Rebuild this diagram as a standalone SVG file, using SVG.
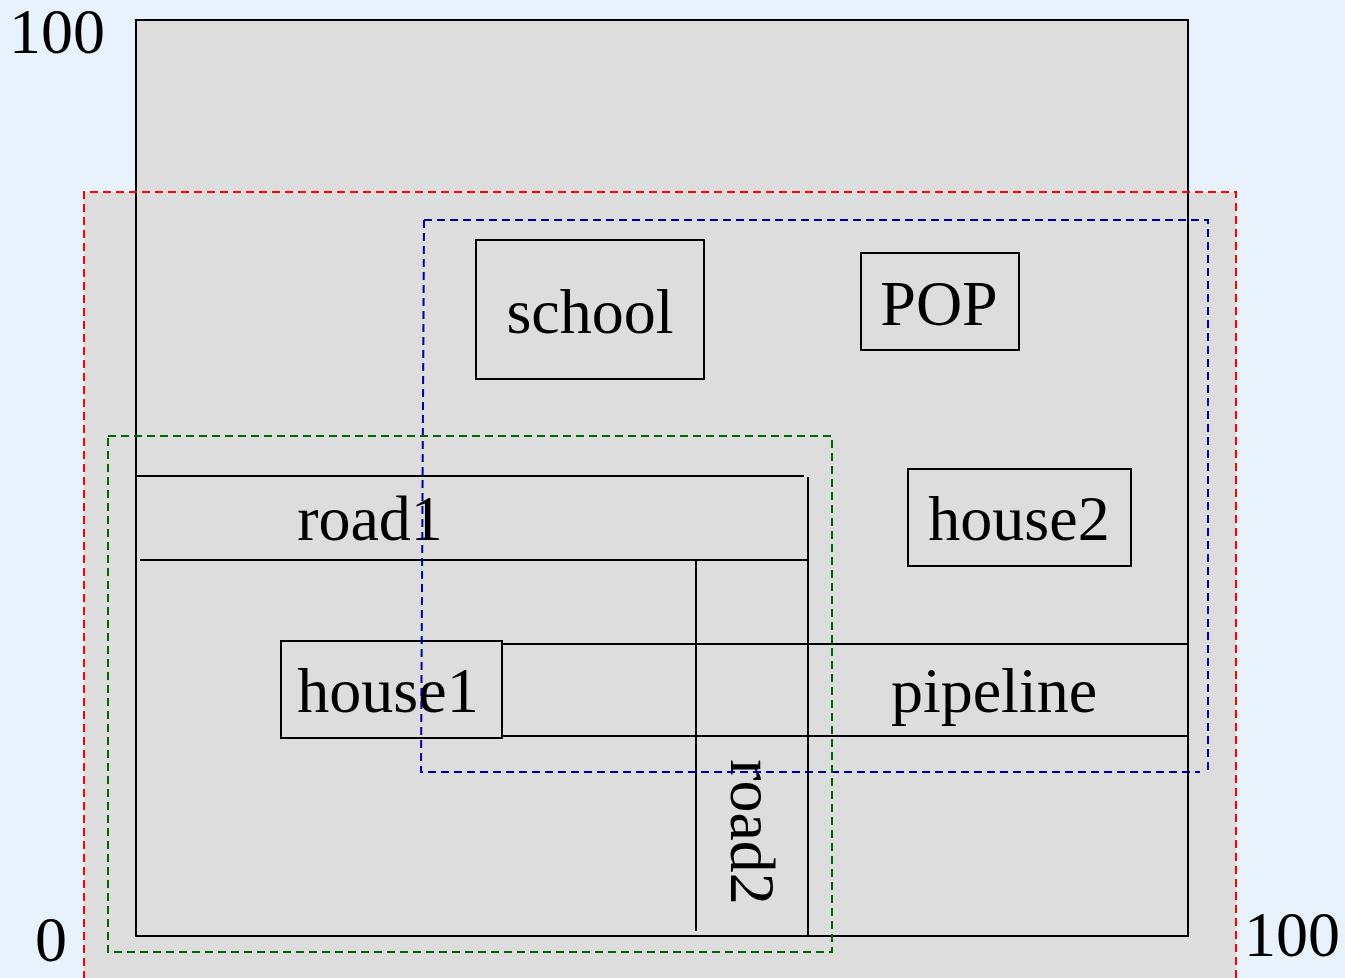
<svg xmlns="http://www.w3.org/2000/svg" width="1345" height="978" viewBox="0 0 1345 978">
<style>
text{font-family:"Liberation Serif","Times New Roman",serif;font-size:64px;fill:#000}
.box{fill:none;stroke:#000;stroke-width:2}
.ln{stroke:#000;stroke-width:2;fill:none}
.dash{fill:none;stroke-width:2;stroke-dasharray:8,5}
</style>
<rect x="0" y="0" width="1345" height="978" fill="#e8f2fc"/>
<g id="red-region">
<rect x="84" y="192" width="1152" height="800" fill="#dddddd"/>
</g>
<g id="map">
<rect x="136" y="20" width="1052" height="916" fill="#dddddd" stroke="#000" stroke-width="2"/>
</g>
<g id="road1">
<line class="ln" x1="136" y1="476" x2="804" y2="476"/>
<line class="ln" x1="140" y1="560" x2="808" y2="560"/>
<text x="370" y="540" text-anchor="middle">road1</text>
</g>
<g id="road2">
<line class="ln" x1="696" y1="561" x2="696" y2="931"/>
<line class="ln" x1="808" y1="477" x2="808" y2="936"/>
<text transform="translate(731,832) rotate(90)" text-anchor="middle">road2</text>
</g>
<g id="pipeline">
<line class="ln" x1="503" y1="644" x2="1188" y2="644"/>
<line class="ln" x1="503" y1="736" x2="1188" y2="736"/>
<text x="994" y="712" text-anchor="middle">pipeline</text>
</g>
<g id="house1">
<rect class="box" x="281" y="641" width="221" height="97"/>
<text x="388" y="712" text-anchor="middle">house1</text>
</g>
<g id="school">
<rect class="box" x="476" y="240" width="228" height="139"/>
<text x="590" y="333" text-anchor="middle">school</text>
</g>
<g id="POP">
<rect class="box" x="861" y="253" width="158" height="97"/>
<text x="939" y="325" text-anchor="middle">POP</text>
</g>
<g id="house2">
<rect class="box" x="908" y="469" width="223" height="97"/>
<text x="1019" y="540" text-anchor="middle">house2</text>
</g>
<g id="regions">
<path class="dash" stroke="#ff0000" d="M84,992 V192 H1236 V992"/>
<path class="dash" stroke="#000099" d="M424,220 H1208 V775 M424,220 L421,772 H1200"/>
<rect class="dash" stroke="#006600" x="108" y="436" width="724" height="516"/>
</g>
<g id="axes">
<text x="105" y="53" text-anchor="end">100</text>
<text x="35" y="961">0</text>
<text x="1340" y="956" text-anchor="end">100</text>
</g>
</svg>
